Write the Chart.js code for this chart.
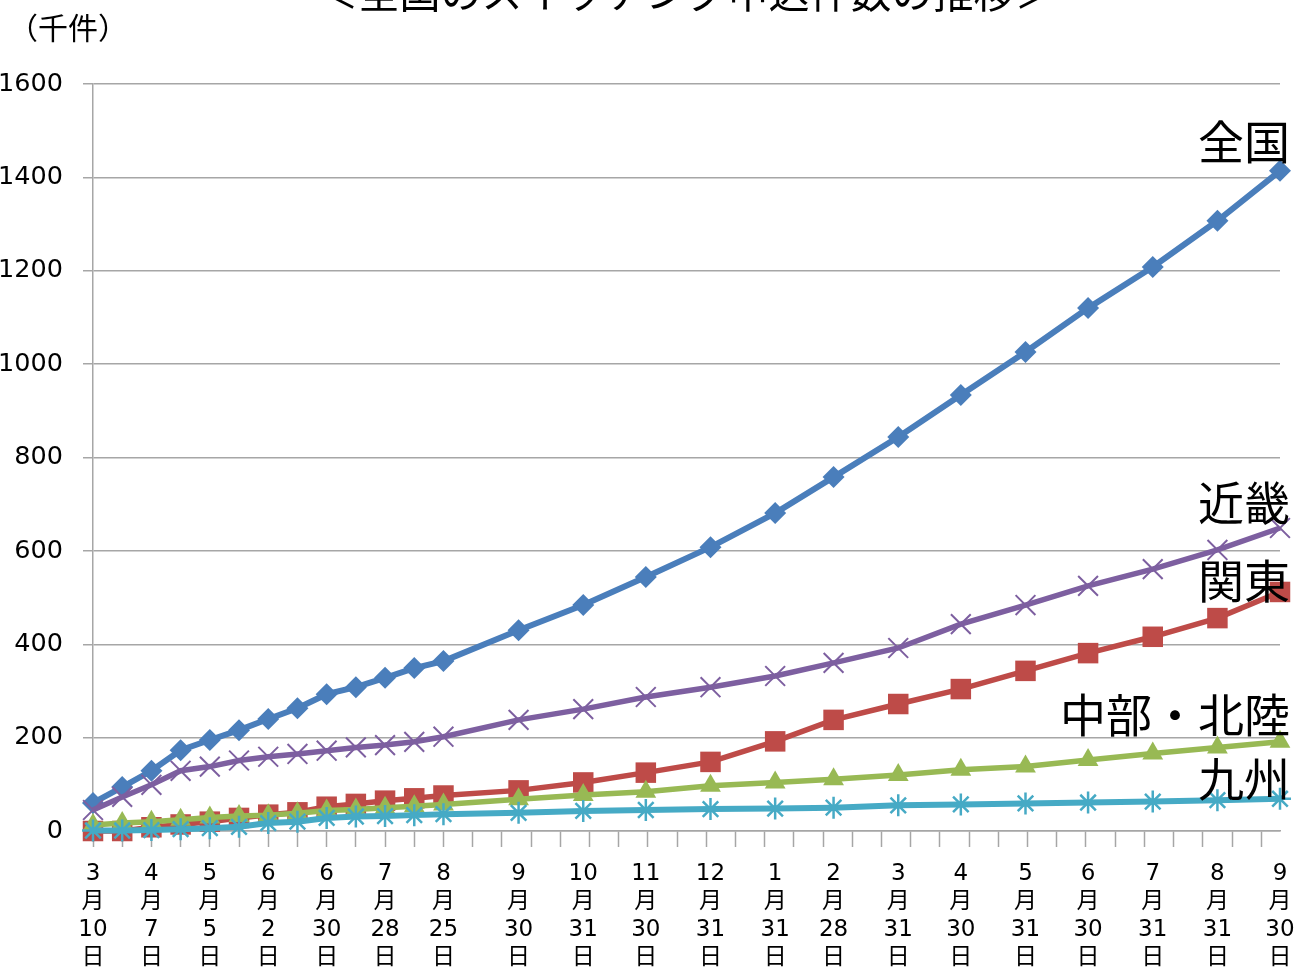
<!DOCTYPE html>
<html>
<head>
<meta charset="utf-8">
<script src="https://cdn.jsdelivr.net/npm/chart.js@4.4.1/dist/chart.umd.min.js"></script>
<style>
  html, body { margin: 0; padding: 0; background: #fff; }
</style>
</head>
<body>
<canvas id="lineChart" width="1300" height="969"></canvas>
<script>
// data (千件)
const dates = ['2016-03-10', '2016-03-24', '2016-04-07', '2016-04-21', '2016-05-05', '2016-05-19',
  '2016-06-02', '2016-06-16', '2016-06-30', '2016-07-14', '2016-07-28', '2016-08-11', '2016-08-25',
  '2016-09-30', '2016-10-31', '2016-11-30', '2016-12-31', '2017-01-31', '2017-02-28', '2017-03-31',
  '2017-04-30', '2017-05-31', '2017-06-30', '2017-07-31', '2017-08-31', '2017-09-30'];
const unlabeledDates = ['2016-03-24', '2016-04-21', '2016-05-19', '2016-06-16', '2016-07-14', '2016-08-11'];
const seriesNames = ['全国', '近畿', '関東', '中部・北陸', '九州'];
const zenkoku = [60, 94, 129, 173, 195, 216, 240, 263, 293, 308, 328, 349, 364, 430, 484, 544, 608, 681, 758, 844, 934, 1026, 1120, 1208, 1307, 1414];
const kinki = [45, 73, 99, 129, 138, 151, 159, 165, 172, 179, 184, 191, 202, 238, 261, 287, 308, 332, 360, 392, 443, 484, 525, 561, 602, 649];
const kanto = [0, 0, 8, 14, 20, 28, 35, 40, 52, 58, 65, 70, 76, 87, 104, 125, 148, 192, 238, 272, 304, 343, 381, 416, 456, 512];
const chubu = [13, 17, 20, 24, 29, 32, 34, 38, 44, 46, 50, 53, 57, 68, 77, 84, 97, 104, 111, 120, 131, 138, 152, 166, 179, 191];
const kyushu = [1, 1, 2, 4, 6, 9, 17, 20, 28, 31, 32, 34, 36, 39, 43, 45, 47, 48, 50, 55, 57, 59, 61, 63, 66, 69];
const yTicks = [0, 200, 400, 600, 800, 1000, 1200, 1400, 1600];
const tickStepDays = 14;

const DAY = 86400000;
const t0 = Date.parse(dates[0]);
const dayOf = d => Math.round((Date.parse(d) - t0) / DAY);
const days = dates.map(dayOf);
const lastDay = days[days.length - 1];
const labelDays = dates.filter(d => !unlabeledDates.includes(d)).map(dayOf);

function labelFor(day) {
  const d = new Date(t0 + day * DAY);
  return [String(d.getUTCMonth() + 1), '月', String(d.getUTCDate()), '日'];
}

function pts(values) {
  return values.map((v, i) => ({ x: days[i], y: v }));
}

const endLabels = {
  id: 'endLabels',
  afterDatasetsDraw(chart) {
    const c = chart.ctx;
    const area = chart.chartArea;
    c.save();
    c.font = '46px "Noto Sans CJK JP"';
    c.fillStyle = '#000';
    c.textAlign = 'right';
    c.textBaseline = 'alphabetic';
    chart.data.datasets.forEach((ds, i) => {
      const meta = chart.getDatasetMeta(i);
      const last = meta.data[meta.data.length - 1];
      c.fillText(ds.label, area.right + 10, last.y + ds.endLabelDy);
    });
    // unit and (cut off) title
    c.textAlign = 'left';
    c.font = '30px "Noto Sans CJK JP"';
    c.fillText('（千件）', 8, 39);
    c.textAlign = 'center';
    c.font = '41px "Noto Sans CJK JP"';
    c.fillText('＜全国のスイッチング申込件数の推移＞', (area.left + area.right) / 2, 8);
    c.restore();
  }
};

const ctx = document.getElementById('lineChart').getContext('2d');
new Chart(ctx, {
  type: 'line',
  data: {
    datasets: [
      {
        label: seriesNames[4], data: pts(kyushu), borderColor: '#46AAC5', backgroundColor: '#46AAC5',
        borderWidth: 6, pointStyle: 'star', pointRadius: 11, pointBorderWidth: 2.5, endLabelDy: -3
      },
      {
        label: seriesNames[1], data: pts(kinki), borderColor: '#7D5FA0', backgroundColor: '#7D5FA0',
        borderWidth: 5.5, pointStyle: 'crossRot', pointRadius: 14, pointBorderWidth: 2, endLabelDy: -8
      },
      {
        label: seriesNames[3], data: pts(chubu), borderColor: '#98B954', backgroundColor: '#98B954',
        borderWidth: 5.5, pointStyle: 'triangle', pointRadius: 12, pointBorderWidth: 0, endLabelDy: -10
      },
      {
        label: seriesNames[2], data: pts(kanto), borderColor: '#BE4B48', backgroundColor: '#BE4B48',
        borderWidth: 5.5, pointStyle: 'rect', pointRadius: 14.5, pointBorderWidth: 0, endLabelDy: 6
      },
      {
        label: seriesNames[0], data: pts(zenkoku), borderColor: '#4A7EBB', backgroundColor: '#4A7EBB',
        borderWidth: 6, pointStyle: 'rectRot', pointRadius: 11, pointBorderWidth: 0, endLabelDy: -12
      }
    ]
  },
  options: {
    responsive: false,
    animation: false,
    devicePixelRatio: 1,
    layout: { padding: { top: 84, right: 20, left: 0, bottom: 0 } },
    elements: { line: { tension: 0 } },
    datasets: { line: { clip: false } },
    plugins: {
      legend: { display: false },
      tooltip: { enabled: false }
    },
    scales: {
      x: {
        type: 'linear',
        min: 0,
        max: lastDay,
        afterBuildTicks(scale) {
          const set = new Set(labelDays);
          for (let d = 0; d <= lastDay; d += tickStepDays) set.add(d);
          scale.ticks = [...set].sort((a, b) => a - b).map(v => ({ value: v }));
        },
        afterFit(scale) {
          scale.height = 138;
          scale.paddingLeft = 0;
          scale.paddingRight = 0;
        },
        ticks: {
          autoSkip: false,
          maxRotation: 0,
          minRotation: 0,
          padding: 13,
          color: '#000',
          font: { family: '"DejaVu Sans", "Noto Sans CJK JP"', size: 23, lineHeight: 1.22 },
          callback: v => labelDays.includes(v) ? labelFor(v) : ''
        },
        grid: {
          drawOnChartArea: false,
          tickLength: 16,
          tickWidth: 1.5,
          tickColor: c => (c.tick && c.tick.value % tickStepDays === 0) ? '#A6A6A6' : 'rgba(0,0,0,0)'
        },
        border: { display: true, color: '#A6A6A6', width: 1.5 }
      },
      y: {
        min: 0,
        max: 1600,
        afterBuildTicks(scale) {
          scale.ticks = yTicks.map(v => ({ value: v }));
        },
        afterFit(scale) {
          scale.width = 93;
        },
        ticks: {
          padding: 20,
          color: '#000',
          font: { family: '"DejaVu Sans"', size: 25.5 },
          callback: v => String(v)
        },
        grid: { color: '#A6A6A6', lineWidth: 1.5, tickLength: 10 },
        border: { display: true, color: '#A6A6A6', width: 1.5 }
      }
    }
  },
  plugins: [endLabels]
});
</script>
</body>
</html>
